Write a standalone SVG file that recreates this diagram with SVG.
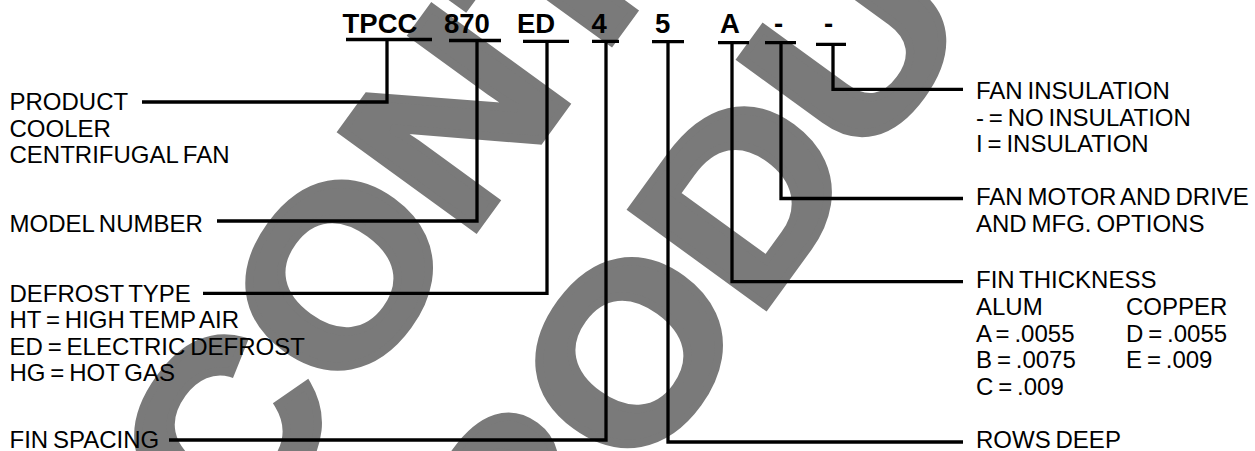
<svg xmlns="http://www.w3.org/2000/svg" width="1255" height="451" viewBox="0 0 1255 451">
<style>
.wm{font-family:"Liberation Sans",Arial,sans-serif;font-weight:bold;font-size:240px;fill:#7a7a7a;stroke:#7a7a7a;stroke-width:8;stroke-linejoin:miter}
.code{font-family:"Liberation Sans",Arial,sans-serif;font-weight:bold;font-size:27.5px;fill:#000}
.lbl{font-family:"Liberation Sans",Arial,sans-serif;font-size:24px;fill:#000;word-spacing:-1.8px}
.ln{fill:none;stroke:#000;stroke-width:3.3;stroke-linecap:butt;stroke-linejoin:miter}
</style>
<rect width="1255" height="451" fill="#fff"/>
<g id="watermark">
<text class="wm" transform="translate(-16.7,906.2) rotate(-54) scale(1.08,1)">DISCONTINUED</text>
<text class="wm" transform="translate(425.6,774.1) rotate(-54) scale(1.08,1)">PRODUCT</text>
</g>
<g id="connectors">
<path class="ln" d="M346,39.5H432M387,39.5V102H142"/>
<path class="ln" d="M449,40.5H501M477,40.5V221H217"/>
<path class="ln" d="M523,41.3H569M547,41.3V293.3H203"/>
<path class="ln" d="M592,41.3H619M606,41.3V440H169"/>
<path class="ln" d="M652,41.7H684M668,41.7V442H963"/>
<path class="ln" d="M718,42.7H749M732,42.7V281.7H963"/>
<path class="ln" d="M765,42.7H796M781,42.7V198.5H963"/>
<path class="ln" d="M816,44.3H846M833,44.3V89.3H963"/>
</g>
<g id="product">
<text class="code" x="342.5" y="33">TPCC</text>
<text class="lbl" x="9.5" y="110">PRODUCT</text>
<text class="lbl" x="9.5" y="137">COOLER</text>
<text class="lbl" x="9.5" y="163">CENTRIFUGAL FAN</text>
</g>
<g id="model">
<text class="code" x="444" y="33">870</text>
<text class="lbl" x="9.5" y="232">MODEL NUMBER</text>
</g>
<g id="defrost">
<text class="code" x="517" y="33">ED</text>
<text class="lbl" x="9.5" y="302">DEFROST TYPE</text>
<text class="lbl" x="9.5" y="328">HT = HIGH TEMP AIR</text>
<text class="lbl" x="9.5" y="354.5">ED = ELECTRIC DEFROST</text>
<text class="lbl" x="9.5" y="381">HG = HOT GAS</text>
</g>
<g id="finspacing">
<text class="code" x="591.5" y="33">4</text>
<text class="lbl" x="9.5" y="448">FIN SPACING</text>
</g>
<g id="rows">
<text class="code" x="655" y="33">5</text>
<text class="lbl" x="976" y="448">ROWS DEEP</text>
</g>
<g id="finthickness">
<text class="code" x="720" y="33">A</text>
<text class="lbl" x="976" y="288.3">FIN THICKNESS</text>
<text class="lbl" x="976" y="315">ALUM</text>
<text class="lbl" x="976" y="341.7">A = .0055</text>
<text class="lbl" x="976" y="368.3">B = .0075</text>
<text class="lbl" x="976" y="395">C = .009</text>
<text class="lbl" x="1126" y="315">COPPER</text>
<text class="lbl" x="1126" y="341.7">D = .0055</text>
<text class="lbl" x="1126" y="368.3">E = .009</text>
</g>
<g id="motor">
<text class="code" x="774" y="33">-</text>
<text class="lbl" x="976" y="205">FAN MOTOR AND DRIVE</text>
<text class="lbl" x="976" y="231.7">AND MFG. OPTIONS</text>
</g>
<g id="insulation">
<text class="code" x="824" y="33">-</text>
<text class="lbl" x="976" y="99">FAN INSULATION</text>
<text class="lbl" x="976" y="126">- = NO INSULATION</text>
<text class="lbl" x="976" y="152">I = INSULATION</text>
</g>
</svg>
